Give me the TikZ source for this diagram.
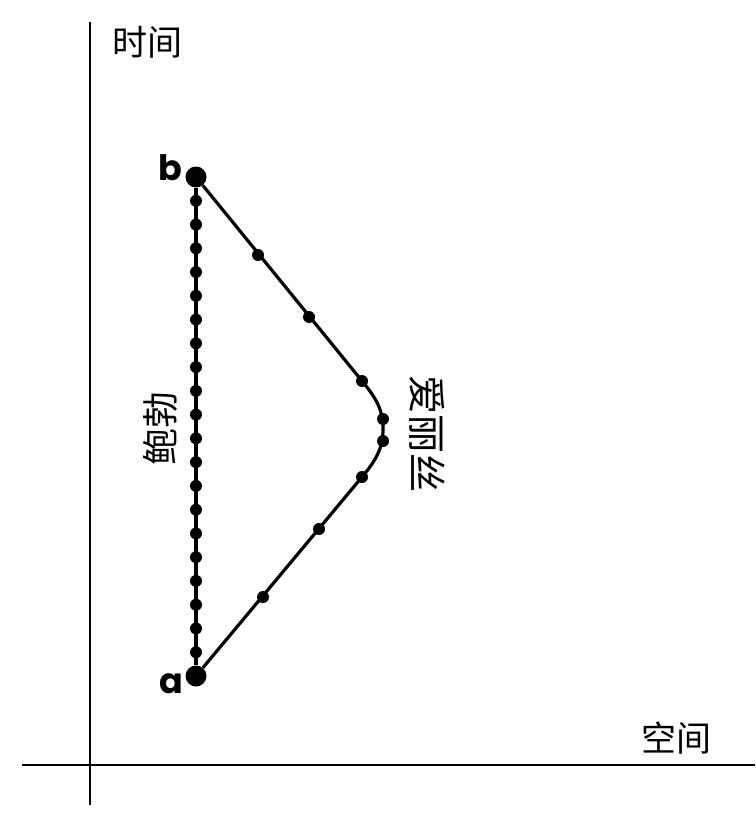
\documentclass[tikz,border=0pt]{standalone}
\usepackage{fontspec}
\newfontfamily\cjk{Noto Sans CJK SC}
\newfontfamily\labelfont{Poppins}[BoldFont={Poppins Bold}]
\usetikzlibrary{positioning}

\begin{document}
\begin{tikzpicture}[x=1pt,y=-1pt,
	event/.style={circle,fill,inner sep=0pt,minimum size=21pt},
	bead/.style={circle,fill,inner sep=0pt,minimum size=12pt},
	axis/.style={line width=2.6pt},
	world/.style={line width=3.2pt},
	letter/.style={font=\labelfont\bfseries\fontsize{35}{35}\selectfont,inner sep=0pt,anchor=base east},
	hanzi/.style={font=\cjk\fontsize{35}{35}\selectfont,inner sep=0pt}]
	\useasboundingbox (0,0) rectangle (755,813);
	% axes
	\coordinate (t_top) at (90,22);
	\coordinate (t_bot) at (90,805);
	\coordinate (x_left) at (22,765);
	\coordinate (x_right) at (755,765);
	\draw[axis] (t_top) -- (t_bot);
	\draw[axis] (x_left) -- (x_right);
	\node[hanzi] (time) at (147,42) {时间};
	\node[hanzi] (space) at (676,738) {空间};
	% events
	\node[event] (b) at (196,177) {};
	\node[event] (a) at (196,676) {};
	\node[letter] (b_label) at (182,181) {b};
	\node[letter] (a_label) at (183,693) {a};
	% Bob stays home
	\draw[world] (a) -- (b);
	\foreach \i in {1,...,20}
		\node[bead] (bob_\i) at (196,{177+\i*499/21}) {};
	\node[hanzi,rotate=90,font=\cjk\fontsize{37}{37}\selectfont] (bob) at (160,428) {鲍勃};
	% Alice travels
	\coordinate (turn_in) at (362,381);
	\coordinate (turn_out) at (362,477);
	\draw[world] (b) -- (turn_in)
		.. controls (378,400) and (383,412) .. (383,429)
		.. controls (383,446) and (378,458) .. (turn_out) -- (a);
	\foreach \p [count=\i] in {(258,255),(309,317),(362,381),(383,419),(383,441),(362,477),(319,529),(263,597)}
		\node[bead] (alice_\i) at \p {};
	\node[hanzi,rotate=-90,font=\cjk\fontsize{39}{39}\selectfont] (alice) at (427,434) {爱丽丝};
\end{tikzpicture}
\end{document}
